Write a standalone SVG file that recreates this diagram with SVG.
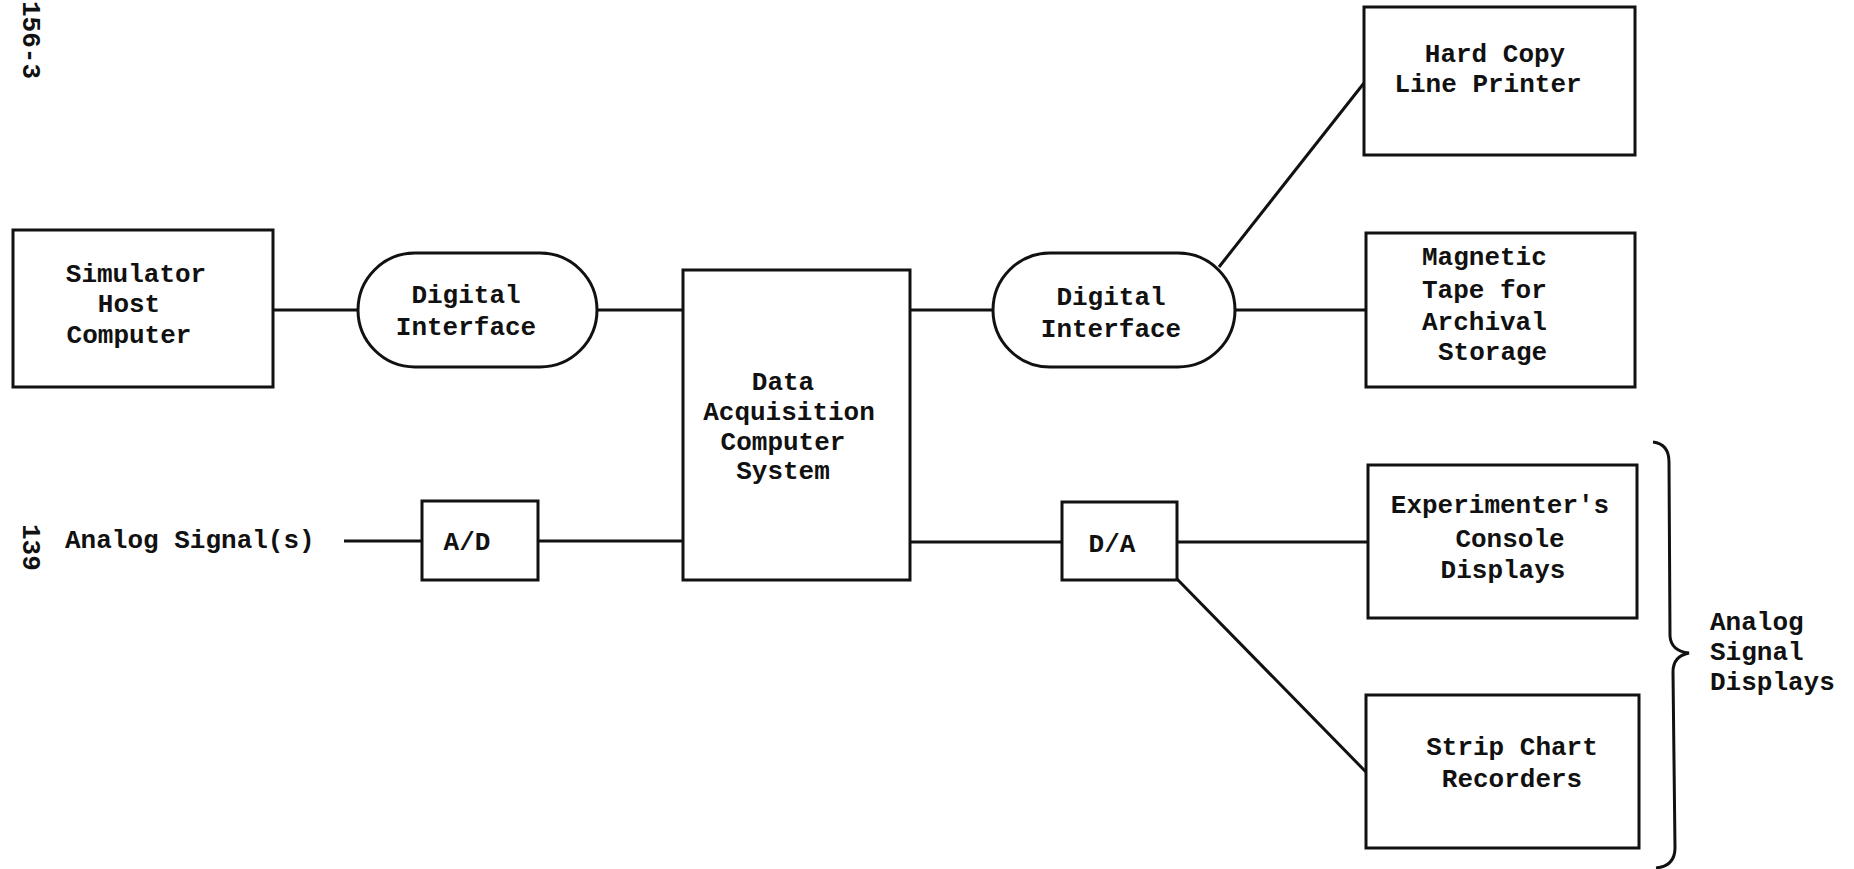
<svg xmlns="http://www.w3.org/2000/svg" width="1854" height="869" viewBox="0 0 1854 869">
<style>
  .box { fill: #ffffff; stroke: #111111; stroke-width: 3; }
  .ln { fill: none; stroke: #111111; stroke-width: 3; }
  text { font-family: "Liberation Mono", "DejaVu Sans Mono", monospace; font-size: 26px; font-weight: bold; fill: #111111; }
  .c { text-anchor: middle; }
</style>
<rect width="1854" height="869" fill="#ffffff"/>

<g id="page-marks">
  <text transform="translate(23,1) rotate(90)">156-3</text>
  <text transform="translate(23,524) rotate(90)">139</text>
</g>

<g id="connectors">
  <line class="ln" x1="273" y1="310" x2="358" y2="310"/>
  <line class="ln" x1="597" y1="310" x2="683" y2="310"/>
  <line class="ln" x1="910" y1="310" x2="993" y2="310"/>
  <line class="ln" x1="1235" y1="310" x2="1366" y2="310"/>
  <line class="ln" x1="1219" y1="267" x2="1364" y2="83"/>
  <line class="ln" x1="344" y1="541" x2="422" y2="541"/>
  <line class="ln" x1="538" y1="541" x2="683" y2="541"/>
  <line class="ln" x1="911" y1="542" x2="1062" y2="542"/>
  <line class="ln" x1="1177" y1="542" x2="1368" y2="542"/>
  <line class="ln" x1="1177" y1="579" x2="1366" y2="772"/>
</g>

<g id="simulator-host">
  <rect class="box" x="13" y="230" width="260" height="157"/>
  <text class="c" x="136" y="282">Simulator</text>
  <text class="c" x="129" y="312">Host</text>
  <text class="c" x="129" y="343">Computer</text>
</g>

<g id="digital-interface-1">
  <rect class="box" x="358" y="253" width="239" height="114" rx="57" ry="57"/>
  <text class="c" x="466" y="303">Digital</text>
  <text class="c" x="466" y="335">Interface</text>
</g>

<g id="data-acquisition">
  <rect class="box" x="683" y="270" width="227" height="310"/>
  <text class="c" x="783" y="390">Data</text>
  <text class="c" x="789" y="420">Acquisition</text>
  <text class="c" x="783" y="450">Computer</text>
  <text class="c" x="783" y="479">System</text>
</g>

<g id="digital-interface-2">
  <rect class="box" x="993" y="253" width="242" height="114" rx="57" ry="57"/>
  <text class="c" x="1111" y="305">Digital</text>
  <text class="c" x="1111" y="337">Interface</text>
</g>

<g id="hard-copy">
  <rect class="box" x="1364" y="7" width="271" height="148"/>
  <text class="c" x="1495" y="62">Hard Copy</text>
  <text class="c" x="1488" y="92">Line Printer</text>
</g>

<g id="magnetic-tape">
  <rect class="box" x="1366" y="233" width="269" height="154"/>
  <text x="1422" y="265">Magnetic</text>
  <text x="1422" y="298">Tape for</text>
  <text x="1422" y="330">Archival</text>
  <text x="1438" y="360">Storage</text>
</g>

<g id="analog-input">
  <text x="65" y="548">Analog Signal(s)</text>
</g>

<g id="a-d">
  <rect class="box" x="422" y="501" width="116" height="79"/>
  <text class="c" x="467" y="550">A/D</text>
</g>

<g id="d-a">
  <rect class="box" x="1062" y="502" width="115" height="78"/>
  <text class="c" x="1112" y="552">D/A</text>
</g>

<g id="console-displays">
  <rect class="box" x="1368" y="465" width="269" height="153"/>
  <text class="c" x="1500" y="513">Experimenter's</text>
  <text class="c" x="1510" y="547">Console</text>
  <text class="c" x="1503" y="578">Displays</text>
</g>

<g id="strip-chart">
  <rect class="box" x="1366" y="695" width="273" height="153"/>
  <text class="c" x="1512" y="755">Strip Chart</text>
  <text class="c" x="1512" y="787">Recorders</text>
</g>

<g id="analog-displays-brace">
  <path class="ln" d="M1653,442 Q1669,444 1669,462 L1670,636 Q1671,651 1689,653 Q1673,656 1673,672 L1675,848 Q1675,866 1656,868"/>
  <text x="1710" y="630">Analog</text>
  <text x="1710" y="660">Signal</text>
  <text x="1710" y="690">Displays</text>
</g>
</svg>
